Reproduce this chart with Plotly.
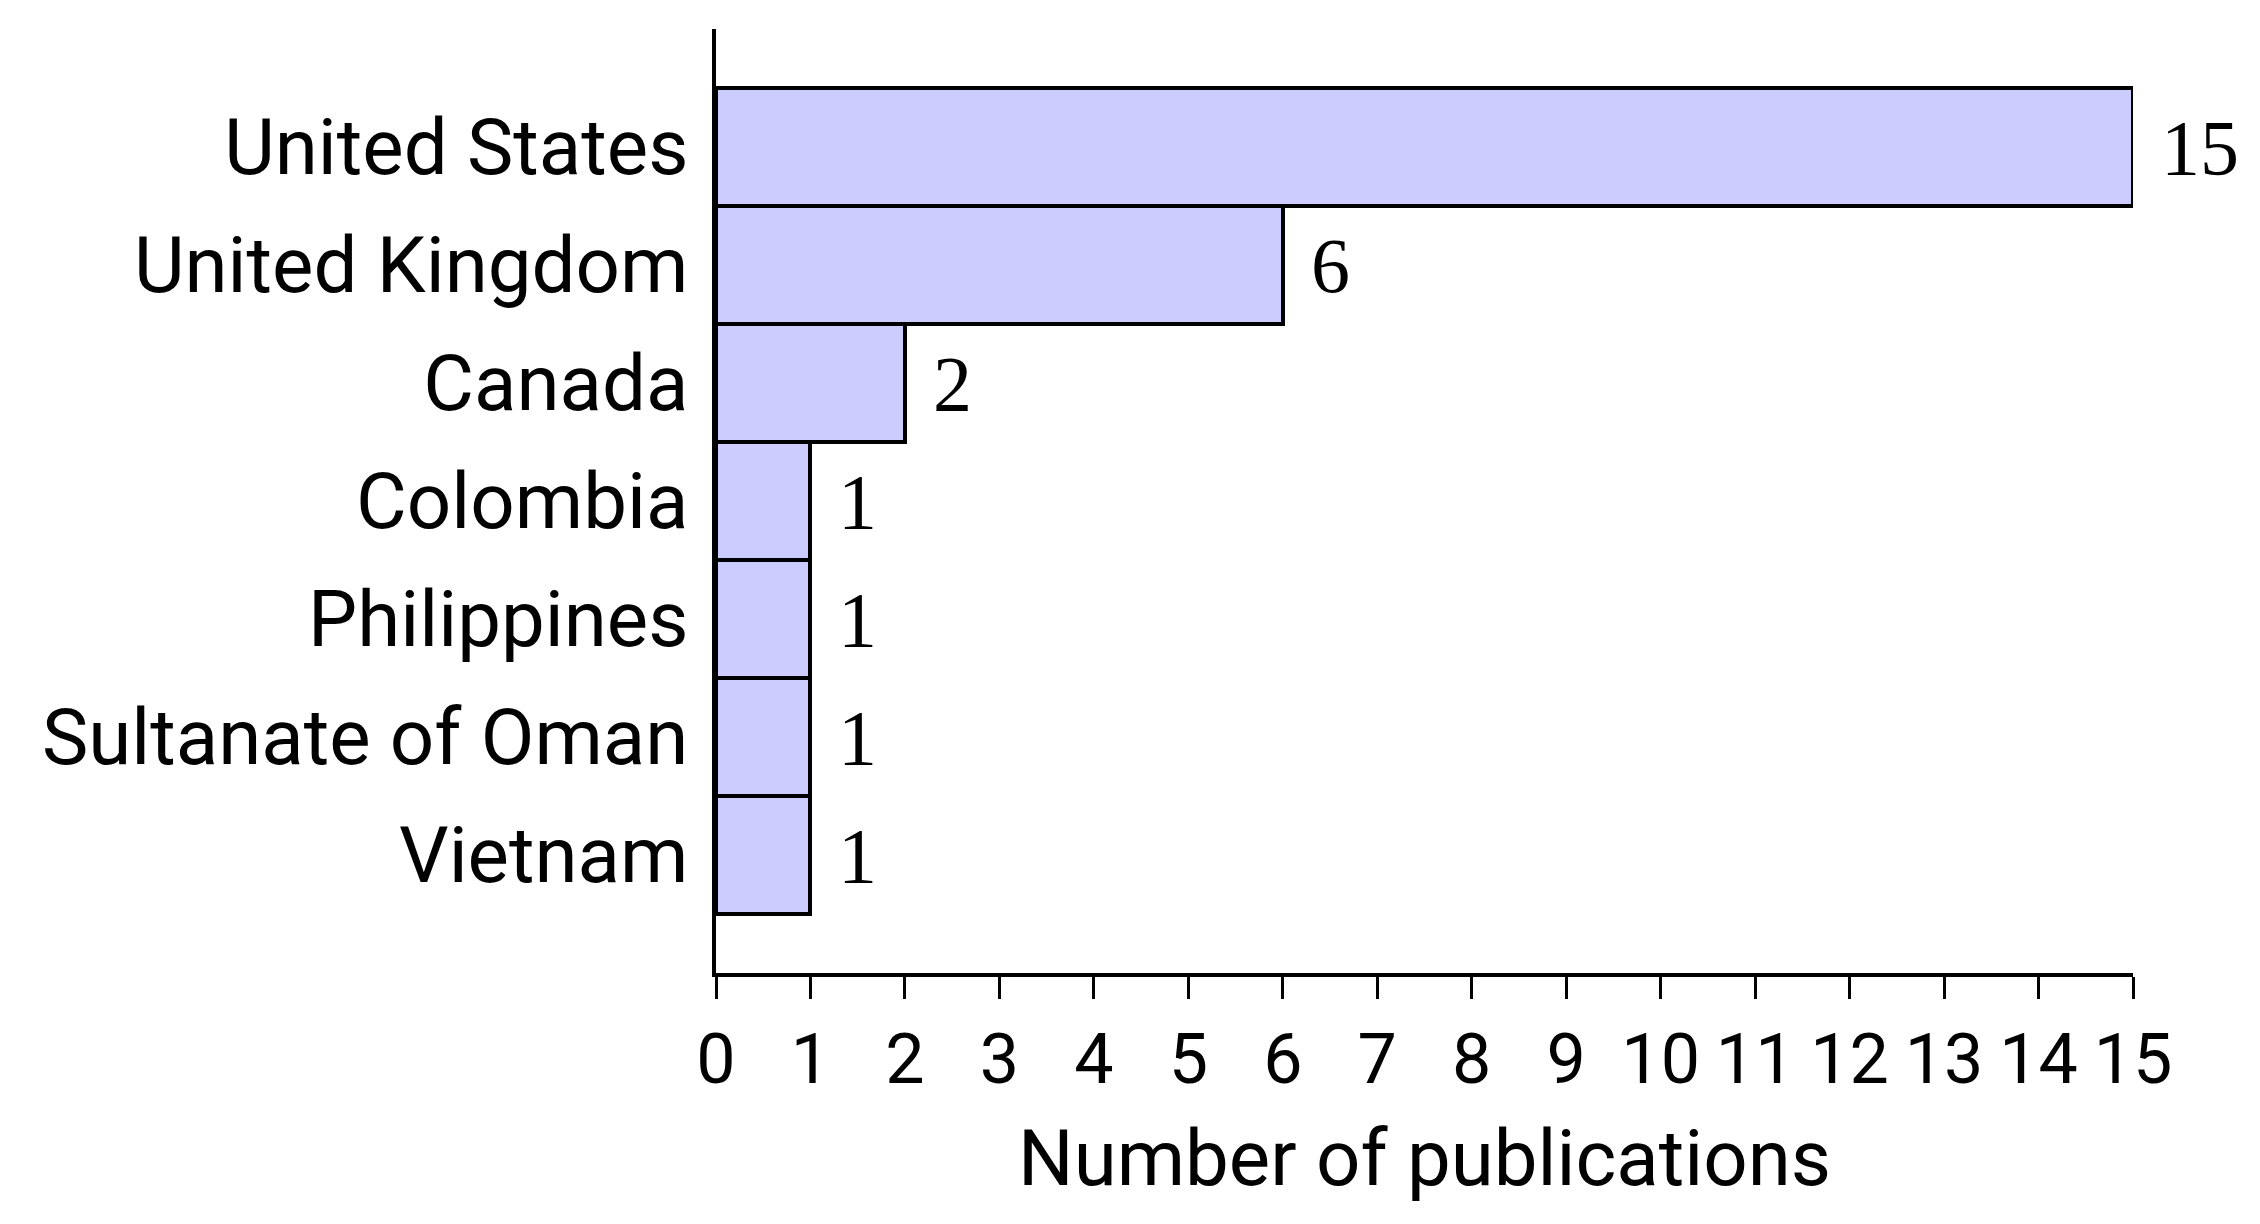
import plotly.graph_objects as go

countries = ["United States", "United Kingdom", "Canada", "Colombia",
             "Philippines", "Sultanate of Oman", "Vietnam"]
publications = [15, 6, 2, 1, 1, 1, 1]
x_ticks = list(range(0, 16))

SANS = "Roboto"
SERIF = "Liberation Serif"

fig = go.Figure()
fig.add_trace(go.Bar(
    x=publications,
    y=countries,
    orientation="h",
    marker=dict(color="#ccccff", line=dict(color="black", width=4)),
    width=1.0,
    showlegend=False,
    hoverinfo="x+y",
))

for c, v in zip(countries, publications):
    fig.add_annotation(
        x=v, y=c, text=str(v), showarrow=False,
        xanchor="left", yanchor="middle", xshift=26,
        font=dict(family=SERIF, size=78, color="black"),
    )

fig.update_layout(
    width=2260, height=1224,
    margin=dict(l=708, r=135, t=21, b=259, autoexpand=False),
    paper_bgcolor="white", plot_bgcolor="white",
    bargap=0,
    font=dict(family=SANS, color="black", size=78),
)

fig.update_xaxes(
    range=[0, 15],
    tickmode="array", tickvals=x_ticks, ticktext=[str(t) for t in x_ticks],
    showgrid=False, zeroline=False,
    showline=True, linecolor="black", linewidth=4,
    ticks="outside", ticklen=22, tickwidth=3, tickcolor="black",
    tickfont=dict(family=SANS, size=70, color="black"),
    title=dict(text="Number of publications", font=dict(family=SANS, size=78, color="black"), standoff=32),
)

fig.update_yaxes(
    type="category",
    categoryorder="array", categoryarray=countries,
    range=[7, -1],
    showgrid=False, zeroline=False,
    showline=True, linecolor="black", linewidth=4,
    ticks="", ticklabelstandoff=8,
    tickfont=dict(family=SANS, size=78, color="black"),
)

fig.write_html("out.html")
